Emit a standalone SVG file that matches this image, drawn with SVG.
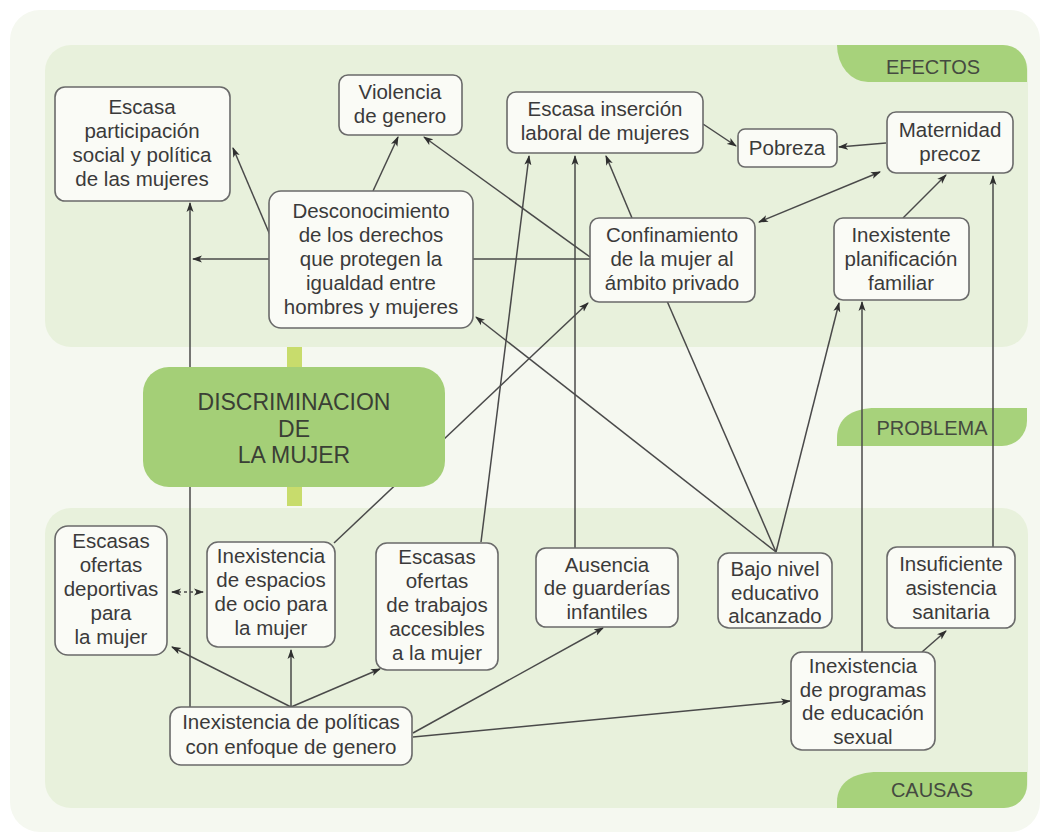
<svg xmlns="http://www.w3.org/2000/svg" width="1044" height="835" viewBox="0 0 1044 835">
<defs>
<marker id="ah" markerUnits="userSpaceOnUse" markerWidth="10" markerHeight="8" refX="9" refY="4" orient="auto-start-reverse">
<path d="M0,0.5 L10,4 L0,7.5 L2.5,4 Z" fill="#2f2f2f"/>
</marker>
<style>
.bg{fill:#f5f8f0}
.panel{fill:#e8f1dc}
.tab{fill:#a7d27b}
.tabt{font-family:"Liberation Sans",Arial,sans-serif;font-size:20px;fill:#454a40;text-anchor:middle}
.node rect{fill:#fafbf6;stroke:#6a6a6a;stroke-width:1.6}
.node text{font-family:"Liberation Sans",Arial,sans-serif;font-size:20.5px;fill:#3a3a3a;text-anchor:middle}
.c line,.c path{stroke:#4a4a4a;stroke-width:1.5;fill:none}
.a{marker-end:url(#ah)}
.aa{marker-start:url(#ah);marker-end:url(#ah)}
.main text{font-family:"Liberation Sans",Arial,sans-serif;font-size:23px;fill:#3a3f35;text-anchor:middle}
</style>
</defs>
<rect class="bg" x="10" y="10" width="1030" height="822" rx="30"/>
<rect class="panel" x="45" y="45" width="983" height="302" rx="26"/>
<rect class="panel" x="45" y="508" width="983" height="300" rx="26"/>
<g id="tab-efectos">
<path class="tab" d="M837,45 H1003 A24,24 0 0 1 1027,69 V82 H868 A31,37 0 0 1 837,45 Z"/>
<text class="tabt" x="933" y="74">EFECTOS</text>
</g>
<g id="tab-problema">
<path class="tab" d="M837,446 V438 C837,418 852,408 876,408 H1027 V421 A25,25 0 0 1 1002,446 Z"/>
<text class="tabt" x="932" y="435">PROBLEMA</text>
</g>
<g id="tab-causas">
<path class="tab" d="M837,808 V802 C837,782 854,772 878,772 H1027 V785 A23,23 0 0 1 1004,808 Z"/>
<text class="tabt" x="932" y="797">CAUSAS</text>
</g>
<rect x="287" y="347" width="15" height="20" fill="#c8dc6c"/>
<rect x="287" y="487" width="15" height="19" fill="#c8dc6c"/>
<g class="c" id="connectors">
<line class="a" x1="270" y1="235" x2="233" y2="148"/>
<line class="a" x1="373" y1="191" x2="398" y2="137"/>
<line class="a" x1="590" y1="259" x2="193" y2="259"/>
<line class="a" x1="590" y1="257" x2="424" y2="137"/>
<line class="a" x1="632" y1="218" x2="606" y2="156"/>
<line class="a" x1="481" y1="542" x2="529" y2="156"/>
<line class="a" x1="575" y1="548" x2="575" y2="156"/>
<line class="a" x1="886" y1="143" x2="839" y2="147"/>
<line class="a" x1="703" y1="124" x2="736" y2="146"/>
<line class="aa" x1="880" y1="172" x2="759" y2="222"/>
<line class="a" x1="903" y1="218" x2="946" y2="175"/>
<line class="a" x1="993" y1="547" x2="993" y2="176"/>
<line class="a" x1="862" y1="652" x2="862" y2="302"/>
<line class="a" x1="776" y1="552" x2="839" y2="303"/>
<line x1="776" y1="552" x2="667" y2="301"/>
<line class="a" x1="776" y1="552" x2="476" y2="317"/>
<line class="a" x1="334" y1="543" x2="588" y2="303"/>
<line class="aa" x1="172" y1="592" x2="203" y2="592" stroke-dasharray="3,3"/>
<line class="a" x1="190" y1="707" x2="190" y2="203"/>
<line class="a" x1="291" y1="707" x2="172" y2="647"/>
<line class="a" x1="291" y1="707" x2="291" y2="650"/>
<line class="a" x1="291" y1="707" x2="380" y2="669"/>
<line class="a" x1="413" y1="733" x2="603" y2="628"/>
<line class="a" x1="413" y1="737" x2="790" y2="701"/>
<line class="a" x1="922" y1="652" x2="946" y2="631"/>
</g>
<g id="discriminacion" class="main">
<rect x="143" y="367" width="302" height="120" rx="26" fill="#a4cf77"/>
<text x="294" y="410">DISCRIMINACION</text>
<text x="294" y="437">DE</text>
<text x="294" y="463">LA MUJER</text>
</g>
<g id="n-participacion" class="node">
<rect x="55" y="87" width="175" height="114" rx="10"/>
<text x="142" y="114">Escasa</text>
<text x="142" y="138">participación</text>
<text x="142" y="162">social y política</text>
<text x="142" y="186">de las mujeres</text>
</g>
<g id="n-violencia" class="node">
<rect x="339" y="75" width="123" height="60" rx="9"/>
<text x="400" y="99">Violencia</text>
<text x="400" y="123">de genero</text>
</g>
<g id="n-insercion" class="node">
<rect x="507" y="92" width="196" height="61" rx="9"/>
<text x="605" y="116">Escasa inserción</text>
<text x="605" y="140">laboral de mujeres</text>
</g>
<g id="n-pobreza" class="node">
<rect x="738" y="129" width="99" height="38" rx="7"/>
<text x="787" y="155">Pobreza</text>
</g>
<g id="n-maternidad" class="node">
<rect x="887" y="112" width="126" height="61" rx="9"/>
<text x="950" y="137">Maternidad</text>
<text x="950" y="161">precoz</text>
</g>
<g id="n-desconocimiento" class="node">
<rect x="269" y="191" width="204" height="137" rx="12"/>
<text x="371" y="218">Desconocimiento</text>
<text x="371" y="242">de los derechos</text>
<text x="371" y="266">que protegen la</text>
<text x="371" y="290">igualdad entre</text>
<text x="371" y="314">hombres y mujeres</text>
</g>
<g id="n-confinamiento" class="node">
<rect x="590" y="218" width="165" height="84" rx="9"/>
<text x="672" y="242">Confinamiento</text>
<text x="672" y="266">de la mujer al</text>
<text x="672" y="290">ámbito privado</text>
</g>
<g id="n-planificacion" class="node">
<rect x="834" y="218" width="135" height="82" rx="9"/>
<text x="901" y="242">Inexistente</text>
<text x="901" y="266">planificación</text>
<text x="901" y="290">familiar</text>
</g>
<g id="n-deportivas" class="node">
<rect x="55" y="526" width="112" height="129" rx="13"/>
<text x="111" y="548">Escasas</text>
<text x="111" y="572">ofertas</text>
<text x="111" y="596">deportivas</text>
<text x="111" y="620">para</text>
<text x="111" y="644">la mujer</text>
</g>
<g id="n-ocio" class="node">
<rect x="207" y="542" width="128" height="105" rx="11"/>
<text x="271" y="563">Inexistencia</text>
<text x="271" y="587">de espacios</text>
<text x="271" y="611">de ocio para</text>
<text x="271" y="635">la mujer</text>
</g>
<g id="n-trabajos" class="node">
<rect x="376" y="543" width="122" height="127" rx="11"/>
<text x="437" y="564">Escasas</text>
<text x="437" y="588">ofertas</text>
<text x="437" y="612">de trabajos</text>
<text x="437" y="636">accesibles</text>
<text x="437" y="660">a la mujer</text>
</g>
<g id="n-guarderias" class="node">
<rect x="536" y="548" width="142" height="79" rx="10"/>
<text x="607" y="572">Ausencia</text>
<text x="607" y="595">de guarderías</text>
<text x="607" y="619">infantiles</text>
</g>
<g id="n-educativo" class="node">
<rect x="718" y="553" width="114" height="75" rx="11"/>
<text x="775" y="576">Bajo nivel</text>
<text x="775" y="600">educativo</text>
<text x="775" y="623">alcanzado</text>
</g>
<g id="n-sanitaria" class="node">
<rect x="887" y="547" width="128" height="81" rx="10"/>
<text x="951" y="571">Insuficiente</text>
<text x="951" y="595">asistencia</text>
<text x="951" y="619">sanitaria</text>
</g>
<g id="n-programas" class="node">
<rect x="791" y="652" width="144" height="98" rx="11"/>
<text x="863" y="673">Inexistencia</text>
<text x="863" y="697">de programas</text>
<text x="863" y="720">de educación</text>
<text x="863" y="744">sexual</text>
</g>
<g id="n-politicas" class="node">
<rect x="170" y="707" width="242" height="58" rx="11"/>
<text x="291" y="729">Inexistencia de políticas</text>
<text x="291" y="754">con enfoque de genero</text>
</g>
</svg>
